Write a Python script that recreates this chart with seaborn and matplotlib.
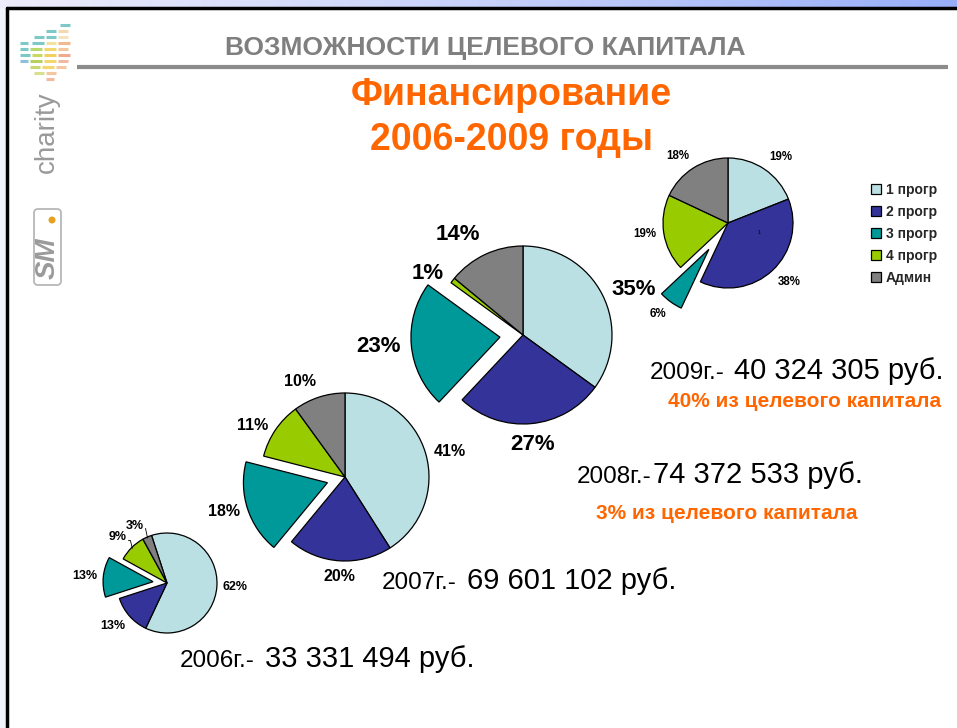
import numpy as np
import matplotlib
matplotlib.use("Agg")
import matplotlib.pyplot as plt
import seaborn as sns

sns.set_theme(style="white")
plt.rcParams['font.family'] = ['Liberation Sans', 'DejaVu Sans']

# данные
categories = ['1 прогр', '2 прогр', '3 прогр', '4 прогр', 'Админ']
colors = ['#BBE0E3', '#333399', '#009999', '#99CC00', '#808080']

share_2006 = [62, 13, 13, 9, 3]
share_2007 = [41, 20, 18, 11, 10]
share_2008 = [35, 27, 23, 1, 14]
share_2009 = [19, 38, 6, 19, 18]

years = ['2006г.-', '2007г.-', '2008г.-', '2009г.-']
amounts = ['33 331 494 руб.', '69 601 102 руб.', '74 372 533 руб.', '40 324 305 руб.']
capital_notes = {'2008': '3% из целевого капитала', '2009': '40% из целевого капитала'}

W, H = 957, 728
fig = plt.figure(figsize=(W / 100, H / 100), dpi=100)
ax = fig.add_axes([0, 0, 1, 1])


def Y(p):
    return H - p


# фон слайда
grad = np.linspace(0, 1, 256).reshape(1, -1)
cmap = matplotlib.colors.LinearSegmentedColormap.from_list('band', ['#ECECFA', '#C8D2FA', '#98AEF8'])
ax.imshow(grad, cmap=cmap, extent=(0, W, Y(8), H), aspect='auto', zorder=0)
ax.add_patch(plt.Rectangle((0, 0), 7, Y(8), color='#F2F2FB', zorder=0))
ax.plot([7, W], [Y(8), Y(8)], color='black', lw=2.5, zorder=5)
ax.plot([7, 7], [0, Y(8)], color='black', lw=2.5, zorder=5)

# логотип
dash_rows = [
    (25, [(60, 70, '#7FC8C8')]),
    (31, [(46, 56, '#7FC8C8'), (58, 68, '#F3D9B0')]),
    (37, [(34, 44, '#7FC8C8'), (46, 56, '#7FC8C8'), (58, 68, '#F3E3C0')]),
    (43, [(20, 28, '#7FC8C8'), (32, 44, '#7FC8C8'), (46, 56, '#F3E3A0'), (58, 70, '#F3B890')]),
    (49, [(20, 28, '#7FC8C8'), (30, 42, '#B8D870'), (44, 56, '#F3D870'), (58, 68, '#F3C8A0')]),
    (55, [(20, 30, '#7FC8C8'), (32, 42, '#C8D860'), (44, 56, '#F3D060'), (58, 70, '#F3A890')]),
    (61, [(20, 28, '#8FC0D8'), (30, 42, '#B8D060'), (44, 56, '#F3D870'), (58, 68, '#F3B8A0')]),
    (67, [(30, 40, '#C8D870'), (42, 54, '#F3D870'), (56, 66, '#F3C8A0')]),
    (73, [(34, 44, '#D8E090'), (46, 56, '#F3C8A0')]),
    (79, [(46, 54, '#F3B8A0')]),
]
for yy, segs in dash_rows:
    for x0, x1, c in segs:
        ax.plot([x0, x1], [Y(yy), Y(yy)], color=c, lw=2.2, solid_capstyle='butt', zorder=2)
ax.text(47, Y(132), 'charity', rotation=90, fontsize=20, color='#9A9A9A',
        ha='center', va='center', zorder=3)
ax.add_patch(matplotlib.patches.FancyBboxPatch((34, Y(285)), 27, 76,
             boxstyle='round,pad=0,rounding_size=4', fc='white', ec='#B8B8B8', lw=1.3, zorder=3))
ax.text(48, Y(258), 'SM', rotation=90, fontsize=20, color='#9A9A9A', fontweight='bold',
        fontstyle='italic', ha='center', va='center', zorder=4)
ax.add_patch(plt.Circle((52, Y(220)), 2.8, color='#E8A020', zorder=4))

# заголовки
ax.text(485, Y(48), 'ВОЗМОЖНОСТИ ЦЕЛЕВОГО КАПИТАЛА', fontsize=19, fontweight='bold',
        color='#7F7F7F', ha='center', va='center')
ax.plot([77, 948], [Y(67), Y(67)], color='#8C8C8C', lw=3, solid_capstyle='butt')
ax.text(511, Y(95), 'Финансирование', fontsize=27, fontweight='bold', color='#FF6600',
        ha='center', va='center')
ax.text(511, Y(140), '2006-2009 годы', fontsize=27, fontweight='bold', color='#FF6600',
        ha='center', va='center')

# круговые диаграммы
pies = [
    # доли, центр, радиус, вынос, старт, размер подписи, дистанция подписи, выноски
    (share_2006, (167, 583), 50, 0.28, 108, 9, 1.12, True),
    (share_2007, (345, 477), 84, 0.22, 90, 11.5, 1.1, False),
    (share_2008, (523, 335), 89, 0.26, 90, 16, 1.12, False),
    (share_2009, (728, 223), 65, 0.5, 90, 8.3, 1.12, False),
]
wedges_last = None
for vals, (cx, cy), r, ex, start, fs, ld, leaders in pies:
    explode = [0, 0, ex * r, 0, 0]
    wedges, texts = ax.pie(
        vals, colors=colors, startangle=start, counterclock=False,
        center=(cx, Y(cy)), radius=r, explode=explode,
        labels=[f'{v}%' for v in vals], labeldistance=ld,
        textprops=dict(fontsize=fs, fontweight='bold', color='black'),
        wedgeprops=dict(edgecolor='black', linewidth=0.9), frame=True,
    )
    # выравнивание подписей относительно центра круга
    for w, t, v in zip(wedges, texts, vals):
        tx, ty = t.get_position()
        dx, dy = tx - cx, ty - Y(cy)
        dist = np.hypot(dx, dy)
        if abs(dx) < 0.25 * r:
            t.set_ha('center')
        else:
            t.set_ha('left' if dx > 0 else 'right')
        if dy / dist < -0.62:
            t.set_va('top')
        elif dy / dist > 0.62:
            t.set_va('bottom')
        if leaders and v < 10:
            th = np.deg2rad(0.5 * (w.theta1 + w.theta2))
            wx, wy = w.center
            p0 = (wx + 0.98 * r * np.cos(th), wy + 0.98 * r * np.sin(th))
            ax.plot([p0[0], p0[0] - 2, tx + 1], [p0[1], ty + 3, ty + 3],
                    color='black', lw=0.6, zorder=3)
            t.set_position((tx - 1, ty))
    wedges_last = wedges

ax.text(759, Y(232), '1', fontsize=4, color='black', ha='center', va='center')

# легенда
ax.legend(wedges_last, categories, loc='upper left',
          bbox_to_anchor=(864 / W, 1 - 176 / H), frameon=False,
          prop=dict(size=10, weight='bold'), handlelength=0.75, handleheight=0.75,
          handletextpad=0.3, labelspacing=0.58, borderpad=0)

# суммы по годам
amount_pos = [(180, 265, 667), (382, 467, 589), (577, 653, 483), (650, 734, 379)]
for yr, amt, (x0, x1, base) in zip(years, amounts, amount_pos):
    ax.text(x0, Y(base), yr, fontsize=17.5, color='black', ha='left', va='baseline')
    ax.text(x1, Y(base), amt, fontsize=21, color='black', ha='left', va='baseline')

ax.text(805, Y(407), capital_notes['2009'], fontsize=15, fontweight='bold',
        color='#FF6600', ha='center', va='baseline')
ax.text(727, Y(519), capital_notes['2008'], fontsize=15, fontweight='bold',
        color='#FF6600', ha='center', va='baseline')

ax.set_xlim(0, W)
ax.set_ylim(0, H)
ax.set_aspect('auto')
ax.axis('off')

fig.savefig('out.png', dpi=100, facecolor='white')
